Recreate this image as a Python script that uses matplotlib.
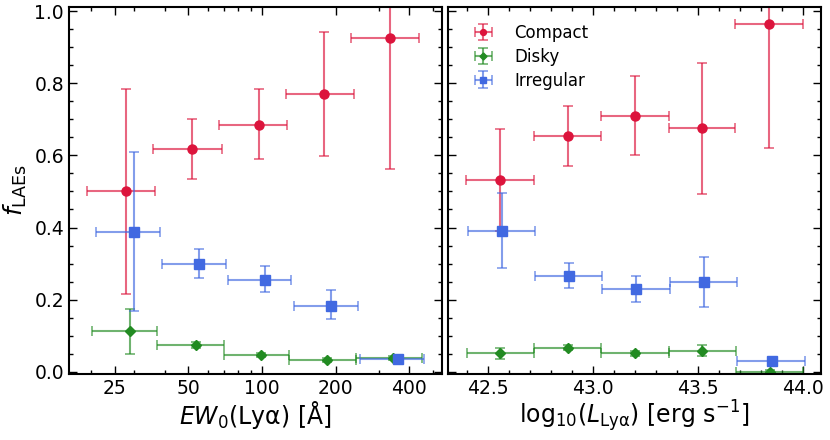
import matplotlib
matplotlib.use("Agg")
import matplotlib.pyplot as plt
from matplotlib.ticker import FixedLocator, FixedFormatter, MultipleLocator
import numpy as np

# ---- EW0(Lya) panel: centre, bin low edge, bin high edge, f, f_lo, f_hi
ew_compact = [27.7, 51.9, 97.0, 179.9, 335.7]
ew_compact_lo = [19.2, 35.8, 66.7, 124.8, 232.0]
ew_compact_hi = [36.5, 68.4, 126.7, 237.0, 439.5]
f_ew_compact = [0.500, 0.618, 0.685, 0.770, 0.924]
f_ew_compact_lo = [0.215, 0.534, 0.589, 0.598, 0.561]
f_ew_compact_hi = [0.783, 0.702, 0.783, 0.942, 1.10]

ew_disky = [28.7, 53.5, 99.5, 184.6, 343.0]
ew_disky_lo = [20.1, 37.3, 69.8, 129.5, 243.0]
ew_disky_hi = [37.3, 69.8, 129.5, 243.0, 451.0]
f_ew_disky = [0.112, 0.075, 0.047, 0.033, 0.038]
f_ew_disky_lo = [0.049, 0.067, 0.041, 0.028, 0.033]
f_ew_disky_hi = [0.175, 0.083, 0.053, 0.038, 0.043]

ew_irr = [29.8, 55.4, 103.3, 192.2, 359.6]
ew_irr_lo = [21.0, 38.9, 72.5, 134.8, 250.8]
ew_irr_hi = [38.3, 71.2, 132.0, 246.0, 460.6]
f_ew_irr = [0.387, 0.299, 0.254, 0.183, 0.036]
f_ew_irr_lo = [0.169, 0.260, 0.220, 0.146, 0.031]
f_ew_irr_hi = [0.610, 0.341, 0.292, 0.227, 0.041]

# ---- log10(L_Lya) panel
lum_compact = [42.557, 42.880, 43.203, 43.518, 43.840]
lum_compact_lo = [42.395, 42.718, 43.040, 43.362, 43.678]
lum_compact_hi = [42.718, 43.040, 43.362, 43.678, 44.001]
f_lum_compact = [0.531, 0.654, 0.710, 0.675, 0.964]
f_lum_compact_lo = [0.390, 0.571, 0.600, 0.492, 0.621]
f_lum_compact_hi = [0.672, 0.737, 0.821, 0.855, 1.10]

lum_disky = [42.560, 42.884, 43.203, 43.522, 43.846]
lum_disky_lo = [42.401, 42.722, 43.041, 43.364, 43.684]
lum_disky_hi = [42.722, 43.041, 43.364, 43.684, 44.003]
f_lum_disky = [0.051, 0.067, 0.051, 0.058, 0.000]
f_lum_disky_lo = [0.036, 0.060, 0.045, 0.045, -0.004]
f_lum_disky_hi = [0.065, 0.074, 0.057, 0.073, 0.004]

lum_irr = [42.567, 42.886, 43.208, 43.529, 43.851]
lum_irr_lo = [42.408, 42.725, 43.044, 43.367, 43.687]
lum_irr_hi = [42.725, 43.044, 43.367, 43.687, 44.010]
f_lum_irr = [0.391, 0.265, 0.230, 0.248, 0.030]
f_lum_irr_lo = [0.287, 0.232, 0.194, 0.181, 0.025]
f_lum_irr_hi = [0.495, 0.301, 0.265, 0.317, 0.035]

ew_ticks = [25, 50, 100, 200, 400]
lum_ticks = [42.5, 43.0, 43.5, 44.0]

c_compact = "crimson"
c_disky = "forestgreen"
c_irr = "royalblue"


def errs(c, lo, hi):
    c, lo, hi = np.array(c), np.array(lo), np.array(hi)
    return [c - lo, hi - c]


def draw(ax, x, xlo, xhi, y, ylo, yhi, color, marker, ms, label):
    ecol = matplotlib.colors.to_rgba(color, 0.65)
    ax.errorbar(x, y, xerr=errs(x, xlo, xhi), yerr=errs(y, ylo, yhi),
                fmt=marker, color=color, ecolor=ecol, ms=ms, capsize=3.5,
                elinewidth=1.5, capthick=1.2, label=label)


fig, (ax1, ax2) = plt.subplots(1, 2, figsize=(8.3, 4.4), dpi=100, sharey=True)
fig.subplots_adjust(left=0.083, right=0.989, top=0.984, bottom=0.15, wspace=0.016)

draw(ax1, ew_compact, ew_compact_lo, ew_compact_hi, f_ew_compact,
     f_ew_compact_lo, f_ew_compact_hi, c_compact, "o", 6.5, "Compact")
draw(ax1, ew_disky, ew_disky_lo, ew_disky_hi, f_ew_disky,
     f_ew_disky_lo, f_ew_disky_hi, c_disky, "D", 5.5, "Disky")
draw(ax1, ew_irr, ew_irr_lo, ew_irr_hi, f_ew_irr,
     f_ew_irr_lo, f_ew_irr_hi, c_irr, "s", 6.5, "Irregular")

draw(ax2, lum_compact, lum_compact_lo, lum_compact_hi, f_lum_compact,
     f_lum_compact_lo, f_lum_compact_hi, c_compact, "o", 6.5, "Compact")
draw(ax2, lum_disky, lum_disky_lo, lum_disky_hi, f_lum_disky,
     f_lum_disky_lo, f_lum_disky_hi, c_disky, "D", 5.5, "Disky")
draw(ax2, lum_irr, lum_irr_lo, lum_irr_hi, f_lum_irr,
     f_lum_irr_lo, f_lum_irr_hi, c_irr, "s", 6.5, "Irregular")

ax1.set_xscale("log")
ax1.set_xlim(16.2, 545)
ax1.xaxis.set_major_locator(FixedLocator(ew_ticks))
ax1.xaxis.set_major_formatter(FixedFormatter([str(t) for t in ew_ticks]))
ax1.xaxis.set_minor_formatter(matplotlib.ticker.NullFormatter())

ax2.set_xlim(42.31, 44.086)
ax2.set_xticks(lum_ticks)
ax2.xaxis.set_minor_locator(MultipleLocator(0.1))

ax1.set_ylim(-0.006, 1.011)
ax1.yaxis.set_major_locator(MultipleLocator(0.2))
ax1.yaxis.set_minor_locator(MultipleLocator(0.05))

for ax in (ax1, ax2):
    ax.tick_params(which="both", direction="in", top=True, right=True,
                   labelsize=13.5, width=1.0)
    ax.tick_params(which="major", length=5.5)
    ax.tick_params(which="minor", length=3)
    for sp in ax.spines.values():
        sp.set_linewidth(1.5)
ax2.tick_params(labelleft=False)

ax1.set_ylabel(r"$f_{\rm LAEs}$", fontsize=18)
ax1.set_xlabel(r"$EW_0$(Lyα) [Å]", fontsize=17, labelpad=0.5)
ax2.set_xlabel(r"log$_{10}$($L_{\rm Ly\alpha}$) [erg s$^{-1}$]", fontsize=17,
               labelpad=0.5)

ax2.legend(loc="upper left", bbox_to_anchor=(0.03, 0.986), frameon=False,
           fontsize=12, handlelength=1.5, borderaxespad=0.3, markerscale=0.65,
           labelspacing=0.35, handletextpad=1.1)

fig.savefig("out.png", dpi=100)
